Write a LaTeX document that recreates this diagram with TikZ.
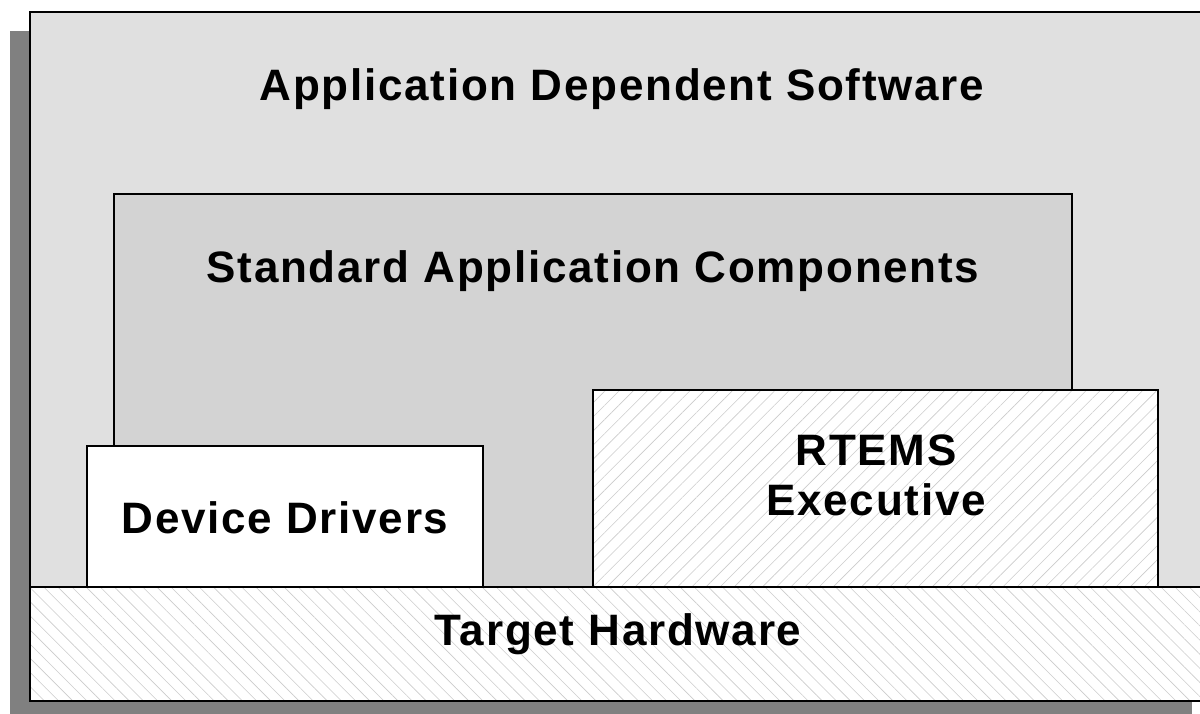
\documentclass[tikz,border=0pt]{standalone}
\usepackage{fontspec}
\setmainfont{Liberation Sans}
\usetikzlibrary{patterns.meta}
\definecolor{shadowgray}{HTML}{808080}
\definecolor{appgray}{HTML}{E0E0E0}
\definecolor{stdgray}{HTML}{D3D3D3}

\begin{document}
\begin{tikzpicture}[x=1pt,y=-1pt,
    layer/.style={draw=black,line width=1.3pt,anchor=north west,inner sep=0pt,outer sep=0pt},
    hatchup/.style={layer,preaction={fill=white},
        pattern={Lines[angle=45,distance=10pt,line width=0.6pt]},pattern color=black!20},
    hatchdown/.style={layer,preaction={fill=white},
        pattern={Lines[angle=-45,distance=10pt,line width=0.6pt]},pattern color=black!20},
    title/.style={anchor=base,align=center,
        font=\fontsize{44}{50}\selectfont\bfseries\addfontfeature{LetterSpace=4}}]

    \useasboundingbox (0,0) rectangle (1200,713);
    \clip (0,0) rectangle (1200,713);

    % boxes
    \node[anchor=north west,fill=shadowgray,minimum width=1182pt,minimum height=689pt] (shadow) at (10,31) {};
    \node[layer,line width=1.8pt,fill=appgray,minimum width=1182pt,minimum height=689pt] (app) at (30,12) {};
    \node[layer,fill=stdgray,minimum width=958pt,minimum height=400pt] (std) at (114,194) {};
    \node[layer,fill=white,minimum width=396pt,minimum height=141pt] (drv) at (87,446) {};
    \node[hatchup,minimum width=565pt,minimum height=197pt] (rtems) at (593,390) {};
    \node[hatchdown,line width=1.8pt,minimum width=1182pt,minimum height=114pt] (hw) at (30,587) {};

    % labels
    \node[title] (applabel) at (622,100) {Application Dependent Software};
    \node[title] (stdlabel) at (593,282) {Standard Application Components};
    \node[title] (drvlabel) at (285,533) {Device Drivers};
    \node[title] (rtemslabel) at (876,515) {RTEMS\\Executive};
    \node[title] (hwlabel) at (618,645) {Target Hardware};

\end{tikzpicture}
\end{document}
